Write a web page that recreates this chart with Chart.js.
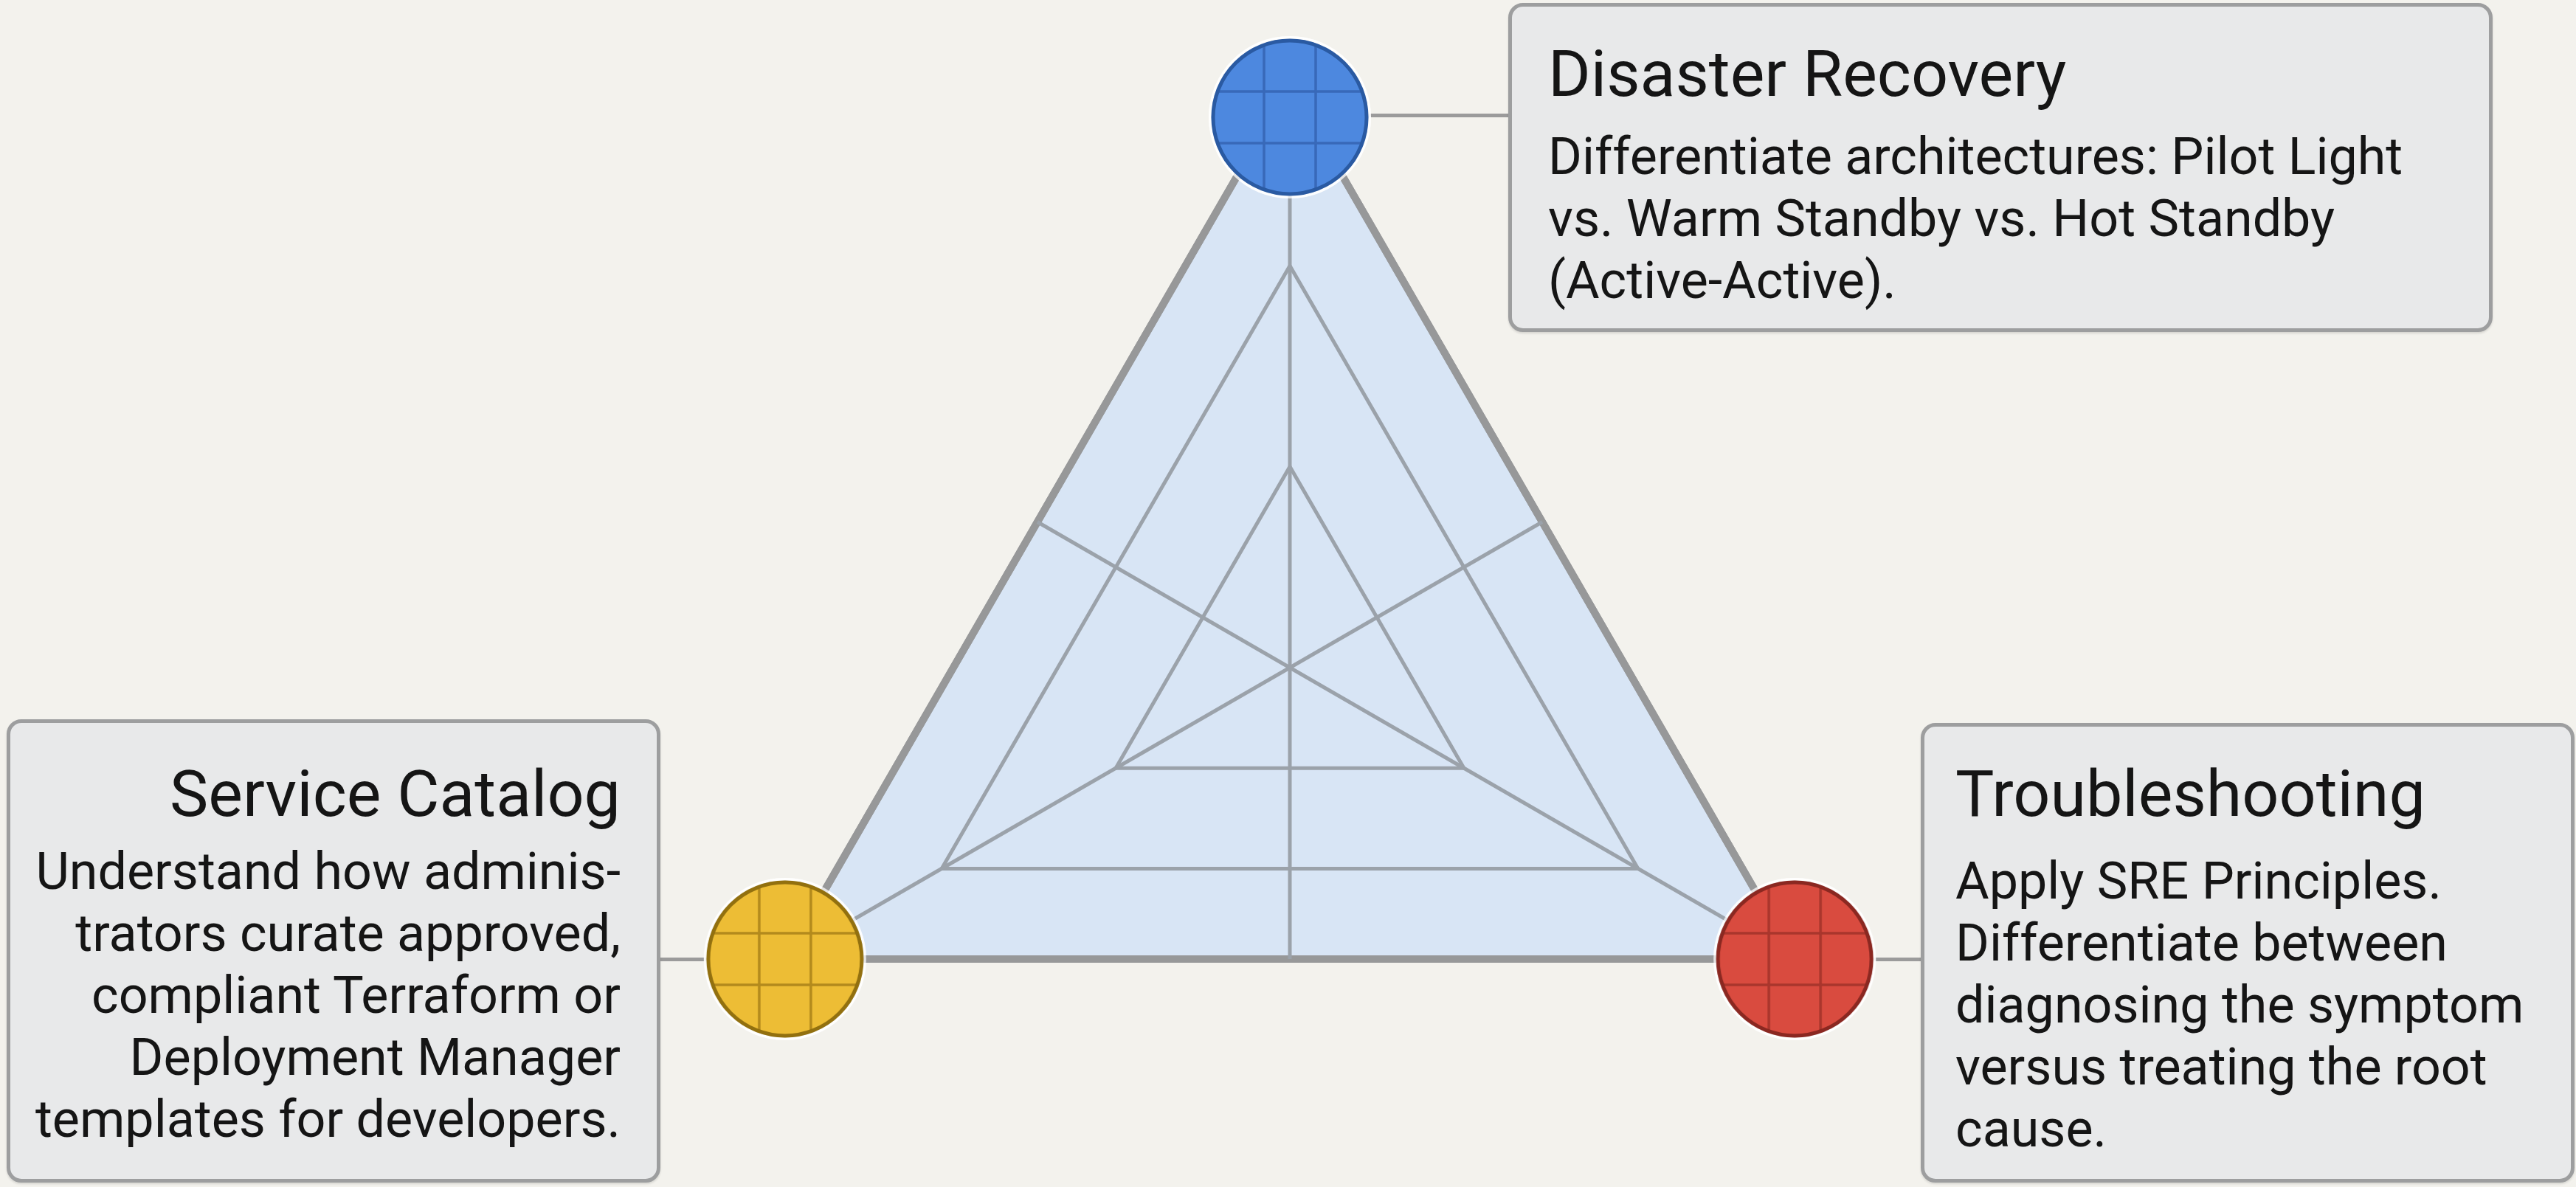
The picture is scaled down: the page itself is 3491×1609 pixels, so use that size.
<!DOCTYPE html>
<html>
<head>
<meta charset="utf-8">
<title>Exam focus areas</title>
<script src="https://cdn.jsdelivr.net/npm/chart.js@4.4.1/dist/chart.umd.min.js"></script>
<style>
  html, body { margin: 0; padding: 0; }
  body {
    width: 3491px; height: 1609px; overflow: hidden; position: relative;
    background: #f3f2ed; color: #151515;
    font-family: Roboto, 'Noto Sans', sans-serif;
  }
  #radar { position: absolute; left: 838px; top: -5px; z-index: 2; }
  .link { position: absolute; height: 5px; background: #9b9b9b; z-index: 1; }
  .card {
    position: absolute; box-sizing: border-box; z-index: 3;
    border: 5px solid #9d9e9f; border-radius: 20px; background: #e8e9ea;
    box-shadow: 0 2px 3px rgba(0, 0, 0, 0.12);
  }
  .card h2 { margin: 0; font-weight: 400; font-size: 88px; line-height: 106px; }
  .card p { margin: 0; font-size: 70px; line-height: 84px; }
</style>
</head>
<body>
<canvas id="radar" width="1820" height="1820"></canvas>
<script>
// the three areas, clockwise from the top
const categories = ['Disaster Recovery', 'Troubleshooting', 'Service Catalog'];
const coverage = [2.9, 2.9, 2.9];
const levels = [1, 2];
const scaleMax = 2.9;

const descriptions = [
  ['Differentiate architectures: Pilot Light', 'vs. Warm Standby vs. Hot Standby', '(Active-Active).'],
  ['Apply SRE Principles.', 'Differentiate between', 'diagnosing the symptom', 'versus treating the root', 'cause.'],
  ['Understand how adminis-', 'trators curate approved,', 'compliant Terraform or', 'Deployment Manager', 'templates for developers.']
];

const gridColor = '#9ba2aa';
const edgeColor = '#979899';

// boxes and connectors round the triangle
const cards = [
  { left: 2044, top: 4, width: 1334, height: 446, padTop: 38, gap: 17, padX: 49, align: 'left' },
  { left: 2603, top: 980, width: 886, height: 623, padTop: 38, gap: 23, padX: 42, align: 'left' },
  { left: 9, top: 975, width: 886, height: 628, padTop: 43, gap: 10, padX: 49, align: 'right' }
];
const links = [
  { left: 1850, top: 154, width: 198 },
  { left: 2533, top: 1298, width: 72 },
  { left: 893, top: 1298, width: 70 }
];

cards.forEach((c, i) => {
  const box = document.createElement('div');
  box.className = 'card';
  Object.assign(box.style, {
    left: c.left + 'px', top: c.top + 'px', width: c.width + 'px', height: c.height + 'px',
    paddingTop: c.padTop + 'px', textAlign: c.align,
    paddingLeft: (c.align === 'left' ? c.padX : 0) + 'px',
    paddingRight: (c.align === 'right' ? c.padX : 0) + 'px'
  });
  const h = document.createElement('h2');
  h.textContent = categories[i];
  const p = document.createElement('p');
  p.style.marginTop = c.gap + 'px';
  p.innerHTML = descriptions[i].join('<br>');
  box.appendChild(h);
  box.appendChild(p);
  document.body.appendChild(box);

  const l = document.createElement('div');
  l.className = 'link';
  Object.assign(l.style, { left: links[i].left + 'px', top: links[i].top + 'px', width: links[i].width + 'px' });
  document.body.appendChild(l);
});

// round badge with a 3x3 grid, drawn into a small canvas used as pointStyle
function makeBadge(fill, rim, lines, shift) {
  const r = 107, pad = 6;
  const half = r + pad + shift;
  const c = document.createElement('canvas');
  c.width = 2 * (r + pad);
  c.height = 2 * half;
  const g = c.getContext('2d');
  const cx = r + pad, cy = half + shift;
  g.beginPath();
  g.arc(cx, cy, r + 3, 0, Math.PI * 2);
  g.fillStyle = 'rgba(255,255,255,0.75)';
  g.fill();
  g.save();
  g.beginPath();
  g.arc(cx, cy, r - 2, 0, Math.PI * 2);
  g.fillStyle = fill;
  g.fill();
  g.clip();
  g.strokeStyle = lines;
  g.lineWidth = 3.5;
  [-35, 35].forEach(d => {
    g.beginPath(); g.moveTo(cx + d, cy - r); g.lineTo(cx + d, cy + r); g.stroke();
    g.beginPath(); g.moveTo(cx - r, cy + d); g.lineTo(cx + r, cy + d); g.stroke();
  });
  g.restore();
  g.beginPath();
  g.arc(cx, cy, r - 3, 0, Math.PI * 2);
  g.strokeStyle = rim;
  g.lineWidth = 5;
  g.stroke();
  return c;
}

const badges = [
  makeBadge('#4d88df', '#2a5aa2', '#3869b9', 44),
  makeBadge('#d94b3f', '#8a2821', '#a9362d', 0),
  makeBadge('#edbd35', '#92700f', '#b38a1d', 0)
];

// medians continue past the centre to the opposite side; badges go back on top
const mediansPlugin = {
  id: 'medians',
  afterDraw(chart) {
    const r = chart.scales.r;
    const ctx = chart.ctx;
    ctx.save();
    ctx.strokeStyle = gridColor;
    ctx.lineWidth = 5;
    categories.forEach((_, i) => {
      const p = r.getPointPosition(i, -r.drawingArea / 2);
      ctx.beginPath();
      ctx.moveTo(r.xCenter, r.yCenter);
      ctx.lineTo(p.x, p.y);
      ctx.stroke();
    });
    ctx.restore();
    chart.getDatasetMeta(0).data.forEach(pt => pt.draw(ctx, chart.chartArea));
  }
};

const isEdge = c => c.tick && Math.abs(c.tick.value - scaleMax) < 1e-6;

new Chart(document.getElementById('radar'), {
  type: 'radar',
  data: {
    labels: categories,
    datasets: [{
      data: coverage,
      fill: true,
      backgroundColor: '#d8e5f5',
      borderColor: edgeColor,
      borderWidth: 10,
      pointStyle: badges,
      pointRadius: 10,
      clip: false
    }]
  },
  options: {
    responsive: false,
    animation: false,
    events: [],
    devicePixelRatio: 1,
    layout: { padding: 120 },
    plugins: { legend: { display: false }, tooltip: { enabled: false } },
    scales: {
      r: {
        min: 0,
        max: scaleMax,
        afterBuildTicks: scale => {
          scale.ticks = [0, ...levels, scaleMax].map(v => ({ value: v }));
        },
        ticks: { display: false },
        pointLabels: { display: false },
        grid: {
          z: 1,
          circular: false,
          color: c => isEdge(c) ? edgeColor : gridColor,
          lineWidth: c => isEdge(c) ? 10 : 5
        },
        angleLines: { color: gridColor, lineWidth: 5 }
      }
    }
  },
  plugins: [mediansPlugin]
});
</script>
</body>
</html>
